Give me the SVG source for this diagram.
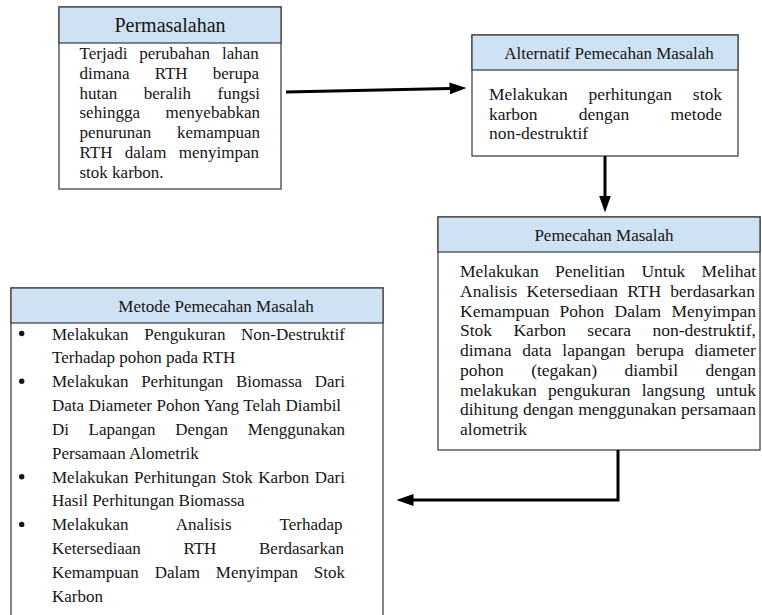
<svg xmlns="http://www.w3.org/2000/svg" width="762" height="615" viewBox="0 0 762 615" font-family="'Liberation Serif', 'Times New Roman', Tinos, 'DejaVu Serif', serif">
  <style>
    .box { fill: #ffffff; stroke: #444444; stroke-width: 1.3; }
    .hdr { fill: #cfe2f3; stroke: #444444; stroke-width: 1.3; }
    .t { font-family: 'Liberation Serif', 'Times New Roman', Tinos, 'DejaVu Serif', serif; fill: #151515; }
    .title { font-size: 17px; text-anchor: middle; }
    .title20 { font-size: 20px; text-anchor: middle; }
    .b17 { font-size: 17px; }
    .b175 { font-size: 17.5px; }
    .conn { fill: none; stroke: #000000; stroke-width: 3; }
  </style>
  <defs>
    <marker id="arrow" viewBox="0 0 17 12" markerWidth="17" markerHeight="12" refX="0.5" refY="6" orient="auto" markerUnits="userSpaceOnUse">
      <path d="M0,0 L17,6 L0,12 Z" fill="#000000"/>
    </marker>
  </defs>
  <rect x="0" y="0" width="762" height="615" fill="#ffffff"/>

  <g id="permasalahan">
    <rect class="box" x="59" y="7" width="222" height="182"/>
    <rect class="hdr" x="59" y="7" width="222" height="36"/>
    <text class="t title20" font-family="Liberation Serif, serif" x="170" y="31.5">Permasalahan</text>
    <text class="t b17" x="79.5" y="59" word-spacing="7.65">Terjadi perubahan lahan</text>
    <text class="t b17" x="79.5" y="78.8" word-spacing="20.85">dimana RTH berupa</text>
    <text class="t b17" x="79.5" y="98.6" word-spacing="22.25">hutan beralih fungsi</text>
    <text class="t b17" x="79.5" y="118.4" word-spacing="21.4">sehingga menyebabkan</text>
    <text class="t b17" x="79.5" y="138.2" word-spacing="21.4">penurunan kemampuan</text>
    <text class="t b17" x="79.5" y="158" word-spacing="8.1">RTH dalam menyimpan</text>
    <text class="t b17" x="79.5" y="177.8">stok karbon.</text>
  </g>

  <g id="alternatif">
    <rect class="box" x="472" y="35" width="266" height="121"/>
    <rect class="hdr" x="472" y="35" width="266" height="35"/>
    <text class="t title" x="609" y="58.5">Alternatif Pemecahan Masalah</text>
    <text class="t b175" x="489" y="100" word-spacing="16.4">Melakukan perhitungan stok</text>
    <text class="t b175" x="489" y="119.7" word-spacing="36.8">karbon dengan metode</text>
    <text class="t b175" x="489" y="139.4">non-destruktif</text>
  </g>

  <g id="pemecahan">
    <rect class="box" x="438" y="217" width="322" height="233"/>
    <rect class="hdr" x="438" y="217" width="322" height="35"/>
    <text class="t title" x="604" y="241">Pemecahan Masalah</text>
    <text class="t b175" x="460" y="277" word-spacing="12.0">Melakukan Penelitian Untuk Melihat</text>
    <text class="t b175" x="460" y="296.75" word-spacing="4.86">Analisis Ketersediaan RTH berdasarkan</text>
    <text class="t b175" x="460" y="316.5" word-spacing="5.83">Kemampuan Pohon Dalam Menyimpan</text>
    <text class="t b175" x="460" y="336.25" word-spacing="17.0">Stok Karbon secara non-destruktif,</text>
    <text class="t b175" x="460" y="356" word-spacing="6.45">dimana data lapangan berupa diameter</text>
    <text class="t b175" x="460" y="375.75" word-spacing="23.0">pohon (tegakan) diambil dengan</text>
    <text class="t b175" x="460" y="395.5" word-spacing="6.8">melakukan pengukuran langsung untuk</text>
    <text class="t b175" x="460" y="415.25" word-spacing="0.3">dihitung dengan menggunakan persamaan</text>
    <text class="t b175" x="460" y="435">alometrik</text>
  </g>

  <g id="metode">
    <rect class="box" x="11" y="288" width="372" height="340"/>
    <rect class="hdr" x="11" y="288" width="372" height="35"/>
    <text class="t title" x="216" y="312">Metode Pemecahan Masalah</text>
    <g fill="#151515">
      <circle cx="21.7" cy="333.5" r="2.7"/>
      <circle cx="21.7" cy="381.2" r="2.7"/>
      <circle cx="21.7" cy="476.7" r="2.7"/>
      <circle cx="21.7" cy="524.4" r="2.7"/>
    </g>
    <text class="t b17" x="52" y="339.5" word-spacing="11.45">Melakukan Pengukuran Non-Destruktif</text>
    <text class="t b17" x="52" y="363.35">Terhadap pohon pada RTH</text>
    <text class="t b17" x="52" y="387.2" word-spacing="8.42">Melakukan Perhitungan Biomassa Dari</text>
    <text class="t b17" x="52" y="411.05" word-spacing="0.33">Data Diameter Pohon Yang Telah Diambil</text>
    <text class="t b17" x="52" y="434.9" word-spacing="15.35">Di Lapangan Dengan Menggunakan</text>
    <text class="t b17" x="52" y="458.75">Persamaan Alometrik</text>
    <text class="t b17" x="52" y="482.6" word-spacing="1.25">Melakukan Perhitungan Stok Karbon Dari</text>
    <text class="t b17" x="52" y="506.45">Hasil Perhitungan Biomassa</text>
    <text class="t b17" x="52" y="530.3" word-spacing="44.05">Melakukan Analisis Terhadap</text>
    <text class="t b17" x="52" y="554.15" word-spacing="38.4">Ketersediaan RTH Berdasarkan</text>
    <text class="t b17" x="52" y="578" word-spacing="11.58">Kemampuan Dalam Menyimpan Stok</text>
    <text class="t b17" x="52" y="601.85">Karbon</text>
  </g>

  <g id="connectors">
    <line class="conn" x1="286" y1="92" x2="450" y2="88.4" marker-end="url(#arrow)"/>
    <line class="conn" x1="605" y1="156" x2="605" y2="196" marker-end="url(#arrow)"/>
    <polyline class="conn" points="618,450 618,500 413,500" marker-end="url(#arrow)"/>
  </g>
</svg>
